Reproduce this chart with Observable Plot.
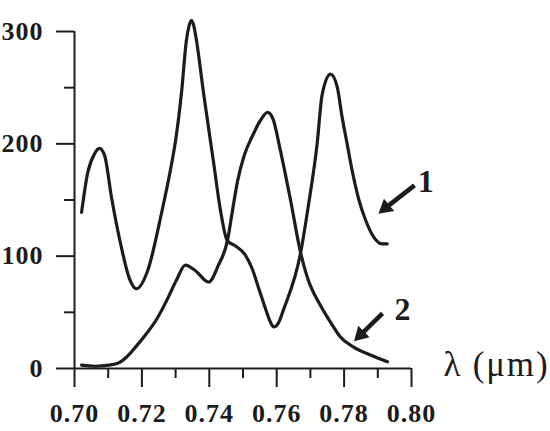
<!DOCTYPE html>
<html>
<head>
<meta charset="utf-8">
<script src="https://cdn.jsdelivr.net/npm/d3@7"></script>
<script src="https://cdn.jsdelivr.net/npm/@observablehq/plot@0.6"></script>
<style>
  html, body { margin: 0; padding: 0; background: #fff; }
  #chart { width: 550px; height: 431px; overflow: hidden; }
</style>
</head>
<body>
<div id="chart"></div>
<script>
// Curve 1
const wavelength1 = [0.7021,0.7039,0.7059,0.7074,0.7089,0.7110,0.7139,0.7163,0.7184,0.7217,0.7258,0.7288,0.7300,0.7318,0.7332,0.7340,0.7347,0.7354,0.7362,0.7383,0.7412,0.7433,0.7453,0.7478,0.7507,0.7527,0.7547,0.7567,0.7582,0.7591,0.7606,0.7621,0.7671,0.7694,0.7720,0.7735,0.7760,0.7780,0.7794,0.7809,0.7824,0.7844,0.7864,0.7888,0.7913,0.7928];
const intensity1  = [139,174,191,196,190,152,108,80,71,87,138,182,203,247,292,305,310,305,292,245,185,141,114,109,101,89,71,53,41,37,41,53,103,145,200,244,262,250,224,200,176,150,132,117,111,111];
// Curve 2
const wavelength2 = [0.7021,0.7062,0.7101,0.7131,0.7154,0.7181,0.7211,0.7246,0.7276,0.7303,0.7329,0.7359,0.7398,0.7427,0.7454,0.7469,0.7484,0.7504,0.7528,0.7552,0.7573,0.7588,0.7611,0.7641,0.7671,0.7691,0.7730,0.7760,0.7789,0.7828,0.7878,0.7929];
const intensity2  = [3,2,3,5,10,19,30,45,62,79,92,87,77,92,114,141,167,190,207,221,228,223,194,150,103,81,56,41,28,19,12,6];

// Axis ticks
const xMajorTicks = [0.70,0.72,0.74,0.76,0.78,0.80];
const xMinorTicks = [0.71,0.73,0.75,0.77,0.79];
const yMajorTicks = [0,100,200,300];
const yMinorTicks = [50,150,250];

// Annotations (data space)
const curveLabels = ["1","2"];
const curveLabelX = [0.8042,0.7973];
const curveLabelY = [166,52];
const arrowTailX = [0.8009,0.7914];
const arrowTailY = [163,49];
const arrowHeadX = [0.7923,0.7849];
const arrowHeadY = [143,30];
const arrowAngle = [230,225];
const axisTitle = ["λ (μm)"];
const axisTitleX = [0.8095];
const axisTitleY = [3];

const s1 = wavelength1.map((x,i)=>({x, y: intensity1[i]}));
const s2 = wavelength2.map((x,i)=>({x, y: intensity2[i]}));
const labels = curveLabels.map((t,i)=>({t, x: curveLabelX[i], y: curveLabelY[i]}));
const arrows = arrowTailX.map((x1,i)=>({x1, y1: arrowTailY[i], x2: arrowHeadX[i], y2: arrowHeadY[i], a: arrowAngle[i]}));
const titles = axisTitle.map((t,i)=>({t, x: axisTitleX[i], y: axisTitleY[i]}));

const ink = "#1c1c1c";
const chart = Plot.plot({
  width: 550,
  height: 431,
  marginLeft: 74,
  marginRight: 139,
  marginTop: 31,
  marginBottom: 63,
  style: {fontFamily: "'Liberation Serif', serif", color: ink, background: "#fff"},
  x: {domain: [0.70, 0.80]},
  y: {domain: [0, 300]},
  marks: [
    Plot.axisX({ticks: xMajorTicks, tickSize: 19, tickPadding: 16, strokeWidth: 2, tickFormat: d => d.toFixed(2), fontSize: 26, fontWeight: "bold", label: null}),
    Plot.axisX({ticks: xMinorTicks, tickSize: 10, strokeWidth: 2, tickFormat: () => "", label: null}),
    Plot.axisY({ticks: yMajorTicks, tickSize: 18, tickPadding: 13, strokeWidth: 2, tickFormat: d => String(d), fontSize: 26, fontWeight: "bold", label: null}),
    Plot.axisY({ticks: yMinorTicks, tickSize: 10, strokeWidth: 2, tickFormat: () => "", label: null}),
    Plot.ruleY([0], {stroke: ink, strokeWidth: 2}),
    Plot.ruleX([0.70], {stroke: ink, strokeWidth: 2}),
    Plot.line(s1, {x: "x", y: "y", curve: "monotone-x", stroke: ink, strokeWidth: 3.2}),
    Plot.line(s2, {x: "x", y: "y", curve: "monotone-x", stroke: ink, strokeWidth: 3.2}),
    Plot.link(arrows, {x1: "x1", y1: "y1", x2: "x2", y2: "y2", stroke: ink, strokeWidth: 4.5}),
    Plot.dot(arrows, {x: "x2", y: "y2", symbol: "triangle", r: 5, rotate: "a", fill: ink, stroke: ink, strokeWidth: 1.5}),
    Plot.text(labels, {x: "x", y: "y", text: "t", fontSize: 32, fontWeight: "bold", fill: ink}),
    Plot.text(titles, {x: "x", y: "y", text: "t", fontSize: 35, textAnchor: "start", fill: ink})
  ]
});
d3.select(chart).selectAll("text")
  .filter(function() { return this.textContent === axisTitle[0]; })
  .attr("letter-spacing", 1.8);
d3.select(chart).selectAll("g[aria-label='tick label'] text, g[aria-label='y-axis tick label'] text, g[aria-label='x-axis tick label'] text")
  .attr("letter-spacing", 1);
document.getElementById("chart").appendChild(chart);
</script>
</body>
</html>
